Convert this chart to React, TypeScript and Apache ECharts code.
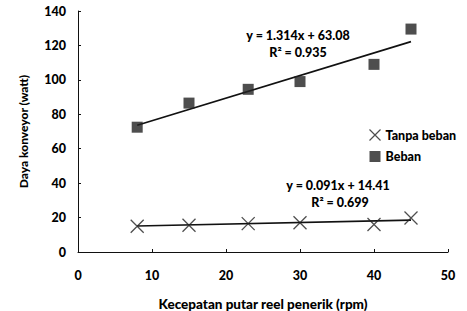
import React, { useEffect, useRef } from "react";
import * as echarts from "echarts";

const xTanpa = [8, 15, 23, 30, 40, 45];
const yTanpa = [15, 15.5, 16.5, 17, 16, 19.8];
const xBeban = [8, 15, 23, 30, 40, 45];
const yBeban = [72.5, 86.5, 94.5, 99, 109, 129.5];
const trendTanpa = { slope: 0.091, intercept: 14.41, r2: "0.699" };
const trendBeban = { slope: 1.314, intercept: 63.08, r2: "0.935" };
const trendRange = [8, 45];
const xTicks = [0, 10, 20, 30, 40, 50];
const yTicks = [0, 20, 40, 60, 80, 100, 120, 140];
const seriesNames = ["Tanpa beban", "Beban"];

const FONT = "Lato";
const W = 900;
const CROSS = "path://M0,0L10,10M10,0L0,10";

export default function App() {
  const ref = useRef<HTMLDivElement>(null);
  useEffect(() => {
    if (!ref.current) return;
    const chart = echarts.init(ref.current, null, { renderer: "svg" });
    const line = (t: { slope: number; intercept: number }) =>
      trendRange.map((x) => [x, t.slope * x + t.intercept]);
    const textStyle = { fontFamily: FONT, fontWeight: W, fontSize: 12.5, fill: "#000" };
    chart.setOption({
      animation: false,
      backgroundColor: "#fff",
      textStyle: { fontFamily: FONT },
      grid: { left: 78, right: 19, top: 11, bottom: 59, outerBoundsMode: "none", containLabel: false },
      xAxis: {
        type: "value",
        min: xTicks[0],
        max: xTicks[xTicks.length - 1],
        interval: 10,
        name: "Kecepatan putar reel penerik (rpm)",
        nameLocation: "middle",
        nameGap: 45,
        nameTextStyle: { fontFamily: FONT, fontWeight: W, fontSize: 13.5, color: "#000" },
        axisLine: { lineStyle: { color: "#111", width: 1 } },
        axisTick: { show: true, inside: true, length: 3, lineStyle: { color: "#111" } },
        axisLabel: { fontFamily: FONT, fontWeight: W, fontSize: 12.5, color: "#000", margin: 17 },
        splitLine: { show: false },
      },
      yAxis: {
        type: "value",
        min: yTicks[0],
        max: yTicks[yTicks.length - 1],
        interval: 20,
        name: "Daya konveyor (watt)",
        nameLocation: "middle",
        nameRotate: 90,
        nameGap: 49,
        nameTextStyle: { fontFamily: FONT, fontWeight: W, fontSize: 12, color: "#000" },
        axisLine: { show: true, lineStyle: { color: "#111", width: 1 } },
        axisTick: { show: true, inside: true, length: 3, lineStyle: { color: "#111" } },
        axisLabel: { fontFamily: FONT, fontWeight: W, fontSize: 12.5, color: "#000", margin: 12 },
        splitLine: { show: false },
      },
      legend: {
        orient: "vertical",
        left: 362,
        top: 122,
        itemGap: 7,
        itemWidth: 11,
        itemHeight: 11,
        textStyle: { fontFamily: FONT, fontWeight: W, fontSize: 12.5, color: "#000" },
        data: [
          { name: seriesNames[0], icon: CROSS, itemStyle: { color: "none", borderColor: "#222", borderWidth: 1.2 } },
          { name: seriesNames[1], icon: "rect" },
        ],
      },
      series: [
        {
          name: seriesNames[0],
          type: "scatter",
          data: xTanpa.map((x, i) => [x, yTanpa[i]]),
          symbol: CROSS,
          symbolSize: 13,
          itemStyle: { color: "none", borderColor: "#222", borderWidth: 1.3 },
          z: 3,
        },
        {
          name: seriesNames[1],
          type: "scatter",
          data: xBeban.map((x, i) => [x, yBeban[i]]),
          symbol: "rect",
          symbolSize: 11,
          itemStyle: { color: "#222" },
          z: 3,
        },
        {
          type: "line",
          data: line(trendTanpa),
          showSymbol: false,
          symbol: "none",
          lineStyle: { color: "#111", width: 1.6 },
          silent: true,
          z: 2,
        },
        {
          type: "line",
          data: line(trendBeban),
          showSymbol: false,
          symbol: "none",
          lineStyle: { color: "#111", width: 1.6 },
          silent: true,
          z: 2,
        },
      ],
      graphic: [
        { type: "text", x: 298, y: 35, style: { ...textStyle, text: `y = ${trendBeban.slope}x + ${trendBeban.intercept}`, align: "center", verticalAlign: "middle" } },
        { type: "text", x: 298, y: 52, style: { ...textStyle, text: `R² = ${trendBeban.r2}`, align: "center", verticalAlign: "middle" } },
        { type: "text", x: 338, y: 185, style: { ...textStyle, text: `y = ${trendTanpa.slope}x + ${trendTanpa.intercept}`, align: "center", verticalAlign: "middle" } },
        { type: "text", x: 340, y: 202, style: { ...textStyle, text: `R² = ${trendTanpa.r2}`, align: "center", verticalAlign: "middle" } },
      ],
    });
    return () => chart.dispose();
  }, []);
  return <div ref={ref} style={{ width: 467, height: 311, position: "absolute", left: 0, top: 0 }} />;
}
